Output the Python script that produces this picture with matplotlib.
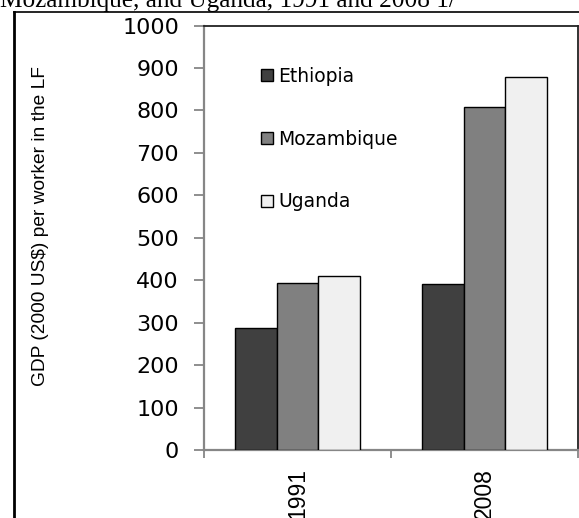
import numpy as np
import matplotlib
matplotlib.use('Agg')
from matplotlib import pyplot as plt
from matplotlib.lines import Line2D

years = ['1991', '2008']
countries = ['Ethiopia', 'Mozambique', 'Uganda']
ethiopia = [287, 391]
mozambique = [394, 807]
uganda = [409, 878]
bar_colors = ['#404040', '#808080', '#f0f0f0']

W, H = 579, 518
fig = plt.figure(figsize=(W/100, H/100), dpi=100)
ax = fig.add_axes([204/W, (H-450)/H, (578-204)/W, (450-25.5)/H])

x = np.arange(len(years))
bw = 0.223
for i, (vals, c) in enumerate(zip([ethiopia, mozambique, uganda], bar_colors)):
    ax.bar(x + (i-1)*bw, vals, bw, color=c, edgecolor='black', linewidth=1.0,
           label=countries[i], zorder=3)

ax.set_xlim(-0.5, 1.5)
ax.set_ylim(0, 1000)
ax.set_yticks(np.arange(0, 1001, 100))

# spines: gray axis lines, dark plot-area border on top/right
for s in ['left', 'bottom']:
    ax.spines[s].set_color('#868686')
    ax.spines[s].set_linewidth(1.6)
for s in ['top', 'right']:
    ax.spines[s].set_color('#222222')
    ax.spines[s].set_linewidth(1.3)

ax.tick_params(axis='y', direction='out', length=7, width=1.3, color='#868686',
               pad=11, labelsize=16)
ax.set_xticks(x)
ax.set_xticklabels(years, rotation=90, fontsize=16.5, family='Liberation Sans')
ax.set_xticks([-0.5, 0.5, 1.5], minor=True)
ax.tick_params(axis='x', which='major', length=0, pad=13)
ax.tick_params(axis='x', which='minor', direction='out', length=6, width=1.3,
               color='#868686')
for t in ax.get_yticklabels():
    t.set_family('DejaVu Sans')

fig.text(41/W, 1-226/H, 'GDP (2000 US$) per worker in the LF', rotation=90,
         ha='center', va='center', fontsize=13.8, family='Liberation Sans')

leg = ax.legend(loc='upper left', bbox_to_anchor=((261-204)/374, 1-(67-25.5)/424.5),
                frameon=False, handlelength=0.62, handleheight=0.6,
                handletextpad=0.3, labelspacing=2.33, borderpad=0, borderaxespad=0,
                prop={'family': 'DejaVu Sans', 'size': 13.5})

# clipped caption above the chart and the document frame
fig.text(0, 1-7.5/H, 'Mozambique, and Uganda, 1991 and 2008 1/', ha='left',
         va='baseline', fontsize=18.2, family='Liberation Serif')
fig.add_artist(Line2D([14/W, 1], [1-12/H, 1-12/H], color='black', lw=1.2))
fig.add_artist(Line2D([14/W, 14/W], [0, 1-12/H], color='black', lw=2.0))

fig.savefig('out.png', dpi=100)
